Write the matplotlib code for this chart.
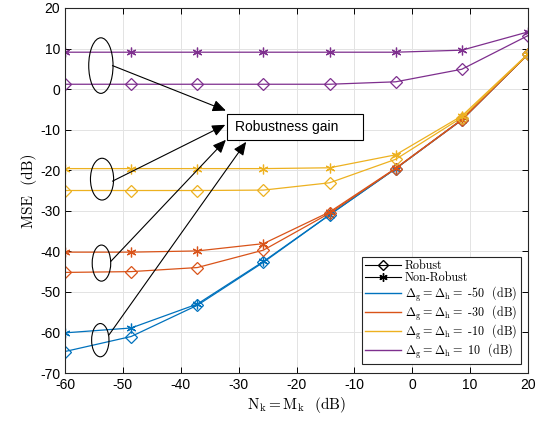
import matplotlib
matplotlib.use('Agg')
import matplotlib.pyplot as plt
from matplotlib.patches import Ellipse, Rectangle
from matplotlib.lines import Line2D

plt.rcParams['font.family'] = ['Liberation Sans', 'DejaVu Sans']
plt.rcParams['mathtext.fontset'] = 'cm'
plt.rcParams['axes.unicode_minus'] = False

# data
snr = [-60, -48.57, -37.14, -25.71, -14.29, -2.86, 8.57, 20]
deltas = ['-50', '-30', '-10', '10']
colors = ['#0072BD', '#D95319', '#EDB120', '#7E2F8E']

robust = [
    [-64.7, -61.0, -53.3, -42.7, -31.0, -19.6, -7.6, 8.6],   # -50 dB
    [-45.2, -45.0, -44.0, -39.7, -30.6, -19.6, -7.6, 8.6],   # -30 dB
    [-25.0, -25.0, -25.0, -24.9, -23.1, -17.3, -7.0, 8.6],   # -10 dB
    [1.2, 1.2, 1.2, 1.2, 1.2, 1.8, 4.9, 13.2],               # 10 dB
]
nonrobust = [
    [-60.1, -58.9, -53.0, -42.5, -31.0, -19.6, -7.5, 8.6],
    [-40.2, -40.2, -39.9, -38.1, -30.3, -19.5, -7.5, 8.6],
    [-19.6, -19.6, -19.6, -19.6, -19.4, -16.2, -6.6, 8.7],
    [9.1, 9.1, 9.1, 9.1, 9.1, 9.1, 9.6, 14.1],
]

fig = plt.figure(figsize=(5.43, 4.21), dpi=100)
ax = fig.add_axes([0.1197, 0.114, 0.8527, 0.867])

star = (6, 2, 0)
for c, r, n in zip(colors, robust, nonrobust):
    ax.plot(snr, n, color=c, lw=0.9, marker=star, ms=7, mew=0.9)
    ax.plot(snr, r, color=c, lw=0.9, marker='D', ms=6, mfc='none', mew=0.9)

ax.set_xlim(-60, 20)
ax.set_ylim(-70, 20)
ax.set_xticks(range(-60, 21, 10))
ax.set_yticks(range(-70, 21, 10))
ax.grid(True, color='#e3e3e3', lw=0.7)
ax.set_axisbelow(True)
ax.tick_params(direction='in', top=True, right=True, labelsize=10, length=4, width=0.7)
for s in ax.spines.values():
    s.set_linewidth(0.8)
    s.set_color('#262626')

ax.set_xlabel(r'$\mathrm{N}_\mathrm{k}=\mathrm{M}_\mathrm{k}$  (dB)', family='cmr10', fontsize=11, labelpad=2)
ax.set_ylabel('MSE  (dB)', family='cmr10', fontsize=11, labelpad=2)

# ellipses grouping each pair of curves
for cx, cy, w, h in [(-53.8, 5.8, 4.2, 13.7), (-53.6, -22.2, 4.0, 10.3),
                     (-53.7, -42.9, 3.2, 8.9), (-53.9, -61.9, 3.0, 8.2)]:
    ax.add_patch(Ellipse((cx, cy), w, h, fill=False, ec='black', lw=0.8, zorder=5))

arrows = [((-51.8, 5.8), (-32.2, -5.3)), ((-51.8, -22.7), (-32.3, -8.8)),
          ((-52.1, -42.5), (-32.2, -12.5)), ((-52.4, -60.6), (-28.7, -13.0))]
for start, end in arrows:
    ax.annotate('', xy=end, xytext=start,
                arrowprops=dict(arrowstyle='-|>,head_length=0.8,head_width=0.35',
                                color='black', lw=0.8, shrinkA=0, shrinkB=0), zorder=6)

ax.add_patch(Rectangle((-32.07, -12.5), 23.57, 6.3, fc='white', ec='black', lw=0.8, zorder=6))
ax.text(-30.6, -9.35, 'Robustness gain', fontsize=10, va='center', ha='left', zorder=7)

handles = [Line2D([], [], color='black', lw=0.8, marker='D', ms=5, mfc='none'),
           Line2D([], [], color='black', lw=0.8, marker=star, ms=6)]
labels = ['Robust', 'Non-Robust']
for c, d in zip(colors, deltas):
    handles.append(Line2D([], [], color=c, lw=1.0))
    labels.append(r'$\Delta_\mathrm{g}=\Delta_\mathrm{h}=$ ' + d + '  (dB)')
leg = ax.legend(handles, labels, loc='lower right', bbox_to_anchor=(0.985, 0.025),
                borderaxespad=0, prop={'family': 'cmr10', 'size': 8.7},
                handlelength=3.0, handletextpad=0.3, labelspacing=0.0,
                borderpad=0.3, fancybox=False, framealpha=1, edgecolor='#262626')
leg.get_frame().set_linewidth(0.8)

fig.savefig('out.png', dpi=100)
